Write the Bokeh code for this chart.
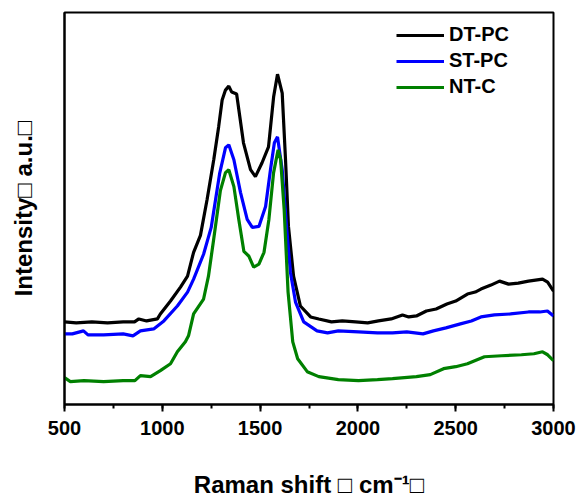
from bokeh.plotting import figure
from bokeh.models import Range1d, SingleIntervalTicker, FixedTicker, Legend, LegendItem
from bokeh.embed import file_html
from bokeh.resources import INLINE

# DT-PC
dt_x = [500, 560, 640, 720, 800, 858, 880, 920, 975, 990, 1042, 1093, 1129, 1160, 1195, 1229, 1263, 1288, 1306,
        1323, 1340, 1355, 1380, 1415, 1451, 1476, 1510, 1543, 1569, 1589, 1613, 1630, 1645, 1671, 1706, 1758,
        1800, 1865, 1920, 1988, 2050, 2105, 2170, 2228, 2260, 2299, 2350, 2400, 2455, 2500, 2560, 2600, 2629,
        2680, 2724, 2770, 2820, 2872, 2944, 2970, 3000]
dt_y = [83, 82, 83, 82, 83, 83, 86, 84, 86, 91, 104, 118, 129, 153, 170, 206, 246, 279, 306,
        316, 320, 314, 312, 263, 236, 229, 243, 259, 309, 332, 313, 246, 179, 129, 99, 88,
        86, 83, 84, 83, 82, 84, 86, 90, 88, 89, 94, 96, 101, 104, 111, 113, 116,
        120, 124, 121, 122, 124, 126, 123, 114]

# ST-PC
st_x = [500, 540, 597, 620, 700, 800, 850, 888, 956, 1008, 1077, 1129, 1160, 1211, 1250, 1293, 1323, 1340,
        1366, 1400, 1434, 1460, 1494, 1528, 1553, 1573, 1589, 1613, 1635, 1655, 1681, 1723, 1791, 1845, 1900,
        2003, 2100, 2177, 2250, 2333, 2386, 2450, 2524, 2580, 2629, 2698, 2780, 2872, 2930, 2969, 3000]
st_y = [71, 71, 74, 70, 70, 71, 69, 74, 76, 84, 99, 113, 126, 151, 178, 232, 258, 261,
        246, 213, 186, 178, 179, 199, 236, 263, 269, 236, 179, 133, 103, 83, 74, 72, 74,
        73, 72, 72, 73, 71, 74, 77, 81, 84, 88, 90, 91, 93, 93, 94, 89]

# NT-C
nt_x = [500, 530, 600, 700, 800, 860, 888, 940, 990, 1042, 1077, 1118, 1134, 1160, 1211, 1236, 1262, 1297,
        1323, 1340, 1366, 1391, 1417, 1443, 1467, 1494, 1520, 1545, 1569, 1592, 1605, 1623, 1643, 1667, 1692,
        1741, 1800, 1900, 2003, 2100, 2177, 2299, 2370, 2438, 2500, 2560, 2647, 2734, 2836, 2900, 2944, 2970, 3000]
nt_y = [27, 23, 24, 23, 24, 24, 29, 28, 34, 41, 53, 63, 69, 91, 106, 129, 165, 215,
        233, 236, 219, 186, 154, 149, 138, 141, 153, 186, 233, 256, 246, 196, 113, 63, 46,
        33, 28, 25, 24, 25, 26, 28, 30, 36, 38, 41, 48, 49, 50, 51, 53, 50, 44]

series_names = ["DT-PC", "ST-PC", "NT-C"]
series_colors = ["#000000", "#0000FF", "#008000"]
x_ticks_interval = 500

FONT = "Liberation Sans"

p = figure(width=581, height=500, output_backend="svg", toolbar_location=None,
           x_range=Range1d(500, 3000), y_range=Range1d(0, 394),
           min_border_left=64, min_border_right=28, min_border_top=12, min_border_bottom=94)
p.grid.visible = False
p.outline_line_color = "black"
p.outline_line_width = 2

rs = []
for xs, ys, c in zip([dt_x, st_x, nt_x], [dt_y, st_y, nt_y], series_colors):
    rs.append(p.line(xs, ys, line_color=c, line_width=3.2))

xa = p.xaxis[0]
xa.ticker = SingleIntervalTicker(interval=x_ticks_interval, num_minor_ticks=2)
xa.axis_line_width = 2
xa.major_tick_line_width = 2
xa.minor_tick_line_width = 2
xa.major_tick_out = 7
xa.major_tick_in = 0
xa.minor_tick_out = 4
xa.minor_tick_in = 0
xa.major_label_text_font = FONT
xa.major_label_text_font_style = "bold"
xa.major_label_text_font_size = "20px"
xa.major_label_text_color = "black"
xa.major_label_standoff = 9
xa.axis_label = "Raman shift \u25a1 cm\u207b\u00b9\u25a1"
xa.axis_label_text_font = FONT
xa.axis_label_text_font_style = "bold"
xa.axis_label_text_font_size = "24px"
xa.axis_label_text_color = "black"
xa.axis_label_standoff = 33

ya = p.yaxis[0]
ya.ticker = FixedTicker(ticks=[])
ya.axis_line_width = 2
ya.major_tick_line_color = None
ya.minor_tick_line_color = None
ya.axis_label = "Intensity\u25a1 a.u.\u25a1"
ya.axis_label_text_font = FONT
ya.axis_label_text_font_style = "bold"
ya.axis_label_text_font_size = "24px"
ya.axis_label_text_color = "black"
ya.axis_label_standoff = 28

legend = Legend(items=[LegendItem(label=n, renderers=[r]) for n, r in zip(series_names, rs)],
                location=(332, 306), border_line_color=None, background_fill_alpha=0,
                padding=0, margin=0, spacing=3, glyph_width=48, glyph_height=20, label_height=20,
                label_standoff=5, label_text_font=FONT, label_text_font_style="bold",
                label_text_font_size="20px", label_text_color="black")
p.add_layout(legend)

open("out.html", "w").write(file_html(p, INLINE))
